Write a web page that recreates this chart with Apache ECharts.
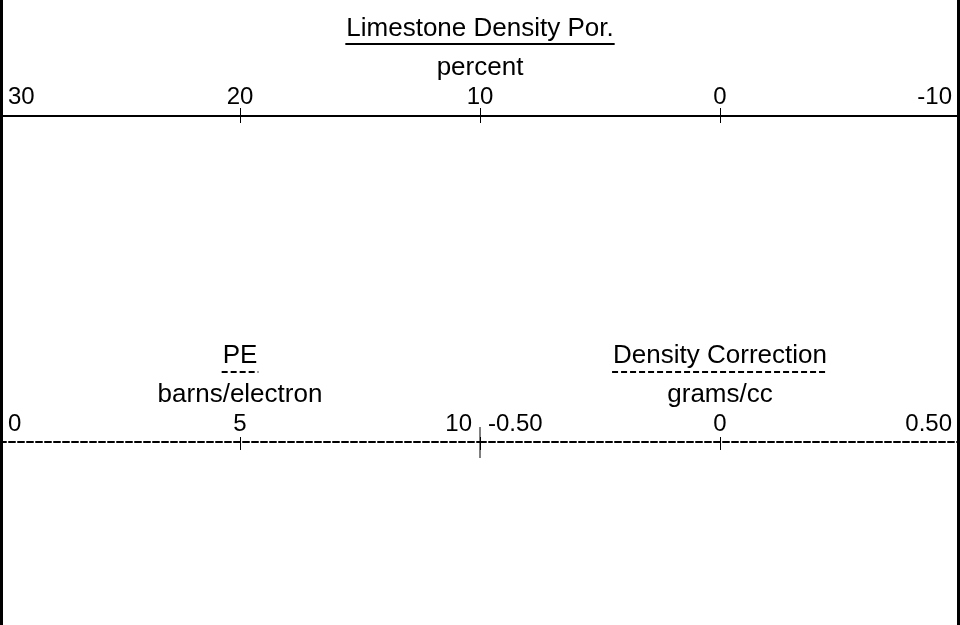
<!DOCTYPE html>
<html><head><meta charset="utf-8">
<script src="https://cdn.jsdelivr.net/npm/echarts@6/dist/echarts.min.js"></script>
<style>html,body{margin:0;padding:0;background:#fff}#c{width:960px;height:625px}</style>
</head><body><div id="c"></div>
<script>
// ---- Track: Limestone Density Porosity (scale runs 30 -> -10, left to right)
const porTitle = 'Limestone Density Por.';
const porUnit = 'percent';
const porMin = -10;
const porMax = 30;
const porInterval = 10;
// ---- Track: PE
const peTitle = 'PE';
const peUnit = 'barns/electron';
const peMin = 0;
const peMax = 10;
const peInterval = 5;
// ---- Track: Density Correction
const dcTitle = 'Density Correction';
const dcUnit = 'grams/cc';
const dcMin = -0.5;
const dcMax = 0.5;
const dcInterval = 0.5;

const FONT = '"Liberation Sans", Arial, sans-serif';
const TICK_FS = 24, TITLE_FS = 26;
const BLACK = '#000';
const DASH = [6, 3];

const chart = echarts.init(document.getElementById('c'), null, {renderer: 'canvas'});

function labelStyle(margin, alignMin, alignMax, fmt) {
  return {
    show: true, color: BLACK, fontFamily: FONT, fontSize: TICK_FS, lineHeight: TICK_FS,
    margin: margin, padding: [0, 8, 0, 8],
    alignMinLabel: alignMin, alignMaxLabel: alignMax,
    formatter: fmt
  };
}
function mainAxis(grid, min, max, interval, inverse, lineType, lineWidth, upLen, margin, alignMin, alignMax, fmt) {
  return {
    type: 'value', gridIndex: grid, position: 'top', min: min, max: max, interval: interval, inverse: inverse,
    axisLine: {show: true, onZero: false, lineStyle: {color: BLACK, width: lineWidth, type: lineType}},
    axisTick: {show: true, inside: false, length: upLen, lineStyle: {color: BLACK, width: 1}},
    axisLabel: labelStyle(margin, alignMin, alignMax, fmt),
    splitLine: {show: false}
  };
}
function downTicks(grid, min, max, interval, inverse, len) {
  return {
    type: 'value', gridIndex: grid, position: 'top', min: min, max: max, interval: interval, inverse: inverse,
    axisLine: {show: false, onZero: false}, axisLabel: {show: false}, splitLine: {show: false},
    axisTick: {show: true, inside: true, length: len, lineStyle: {color: BLACK, width: 1}}
  };
}
const hiddenY = g => ({type: 'value', gridIndex: g, show: false, min: 0, max: 1});

const fmtDC = v => (v === 0 ? '0' : v.toFixed(2));

chart.setOption({
  backgroundColor: '#fff',
  animation: false,
  grid: [
    {left: 0, width: 960, top: 116, height: 326, outerBoundsMode: 'none'},
    {left: 0, width: 480, top: 442, bottom: 0, outerBoundsMode: 'none'},
    {left: 480, width: 480, top: 442, bottom: 0, outerBoundsMode: 'none'},
    {left: 1.5, right: 1.5, top: 0, bottom: 0, outerBoundsMode: 'none'}
  ],
  xAxis: [
    mainAxis(0, porMin, porMax, porInterval, true, 'solid', 2, 8, 7, 'right', 'left'),
    downTicks(0, porMin, porMax, porInterval, true, 7),
    mainAxis(1, peMin, peMax, peInterval, false, DASH, 2, 5, 5.5, 'left', 'right'),
    downTicks(1, peMin, peMax, peInterval, false, 8),
    mainAxis(2, dcMin, dcMax, dcInterval, false, DASH, 2, 5, 5.5, 'left', 'right', fmtDC),
    downTicks(2, dcMin, dcMax, dcInterval, false, 8),
    {type: 'value', gridIndex: 3, show: false, min: 0, max: 1}
  ],
  yAxis: [
    hiddenY(0), hiddenY(1), hiddenY(2),
    {type: 'value', gridIndex: 3, position: 'left', min: 0, max: 1,
      axisLine: {show: true, onZero: false, lineStyle: {color: BLACK, width: 3}},
      axisTick: {show: false}, axisLabel: {show: false}, splitLine: {show: false}},
    {type: 'value', gridIndex: 3, position: 'right', min: 0, max: 1,
      axisLine: {show: true, onZero: false, lineStyle: {color: BLACK, width: 3}},
      axisTick: {show: false}, axisLabel: {show: false}, splitLine: {show: false}}
  ],
  series: []
});

// headers (title, underline in curve style, unit) positioned via the axes' own scales
const mctx = document.createElement('canvas').getContext('2d');
function textW(t, fs) { mctx.font = fs + 'px ' + FONT; return mctx.measureText(t).width; }

function header(axisIdx, min, max, title, unit, lineType, titleBase, underY, unitBase) {
  const cx = chart.convertToPixel({xAxisIndex: axisIdx}, (min + max) / 2);
  const w = textW(title, TITLE_FS) + 2;
  const off = TITLE_FS * 0.35;
  return [
    {type: 'text', x: cx, y: titleBase - off, silent: true,
      style: {text: title, fill: BLACK, fontSize: TITLE_FS, fontFamily: FONT, align: 'center', verticalAlign: 'middle', textAlign: 'center', textVerticalAlign: 'middle'}},
    {type: 'line', silent: true, shape: {x1: cx - w / 2, y1: underY, x2: cx + w / 2, y2: underY},
      style: {stroke: BLACK, lineWidth: 2, lineDash: lineType === 'solid' ? null : DASH}},
    {type: 'text', x: cx, y: unitBase - off, silent: true,
      style: {text: unit, fill: BLACK, fontSize: TITLE_FS, fontFamily: FONT, align: 'center', verticalAlign: 'middle', textAlign: 'center', textVerticalAlign: 'middle'}}
  ];
}

const divX = chart.convertToPixel({xAxisIndex: 2}, peMax);
chart.setOption({
  graphic: [].concat(
    header(0, porMin, porMax, porTitle, porUnit, 'solid', 38, 44, 77),
    header(2, peMin, peMax, peTitle, peUnit, 'dash', 365, 372, 403.5),
    header(4, dcMin, dcMax, dcTitle, dcUnit, 'dash', 365, 372, 403.5),
    [{type: 'line', silent: true, shape: {x1: divX, y1: 427, x2: divX, y2: 458}, style: {stroke: BLACK, lineWidth: 1}}]
  )
});
</script>
</body></html>
